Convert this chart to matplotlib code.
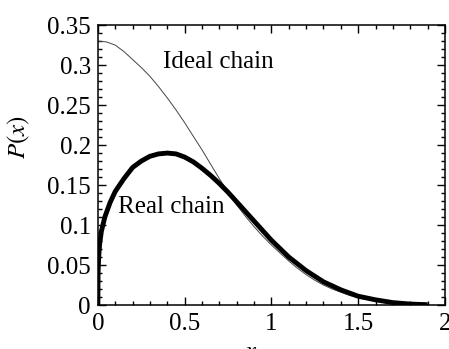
import matplotlib
matplotlib.use("Agg")
import matplotlib.pyplot as plt
from matplotlib.ticker import MultipleLocator, FormatStrFormatter

# values
x_ideal = [0, 0.05, 0.1, 0.15, 0.2, 0.25, 0.3, 0.35, 0.4, 0.45, 0.5, 0.55, 0.6, 0.65,
           0.7, 0.75, 0.8, 0.85, 0.9, 0.95, 1.0, 1.05, 1.1, 1.15, 1.2, 1.25, 1.3,
           1.35, 1.4, 1.45, 1.5, 1.6, 1.7, 1.8, 1.9]
p_ideal = [0.330, 0.329, 0.325, 0.317, 0.307, 0.297, 0.286, 0.273, 0.259, 0.244,
           0.228, 0.211, 0.194, 0.176, 0.158, 0.141, 0.125, 0.111, 0.098, 0.086,
           0.075, 0.065, 0.055, 0.046, 0.038, 0.031, 0.025, 0.020, 0.016, 0.012,
           0.009, 0.005, 0.0025, 0.001, 0.0004]

x_real = [0, 0.001, 0.005, 0.01, 0.02, 0.04, 0.07, 0.1, 0.15, 0.2, 0.25, 0.3, 0.35,
          0.4, 0.45, 0.5, 0.55, 0.6, 0.65, 0.7, 0.75, 0.8, 0.85, 0.9, 0.95, 1.0,
          1.1, 1.2, 1.3, 1.4, 1.5, 1.6, 1.7, 1.8, 1.9]
p_real = [0, 0.040, 0.061, 0.076, 0.092, 0.110, 0.128, 0.142, 0.158, 0.172, 0.180,
          0.186, 0.189, 0.190, 0.189, 0.185, 0.179, 0.171, 0.162, 0.152, 0.141,
          0.129, 0.117, 0.105, 0.093, 0.081, 0.060, 0.043, 0.029, 0.019, 0.011,
          0.0065, 0.003, 0.0012, 0.0004]

plt.rcParams["font.family"] = "Liberation Serif"
plt.rcParams["mathtext.fontset"] = "stix"

fig = plt.figure(figsize=(4.49, 3.49), dpi=100)
ax = fig.add_axes([0.218, 0.126, 0.773, 0.802])

ax.plot(x_ideal, p_ideal, color="#444444", lw=0.7)
ax.plot(x_real, p_real, color="black", lw=3.5, solid_capstyle="butt")

ax.set_xlim(0, 2); ax.set_ylim(0, 0.35)
ax.xaxis.set_major_locator(MultipleLocator(0.5))
ax.xaxis.set_minor_locator(MultipleLocator(0.1))
ax.yaxis.set_major_locator(MultipleLocator(0.05))
ax.yaxis.set_minor_locator(MultipleLocator(0.01))
ax.xaxis.set_major_formatter(FormatStrFormatter("%g"))
ax.yaxis.set_major_formatter(FormatStrFormatter("%g"))
ax.tick_params(which="both", direction="in", top=True, right=True, width=1, labelsize=18)
ax.tick_params(axis="x", which="major", length=6, pad=6)
ax.tick_params(axis="y", which="major", length=6, pad=5)
ax.tick_params(which="minor", length=3)
for s in ax.spines.values():
    s.set_linewidth(1.1)

ax.text(0.375, 0.296, "Ideal chain", fontsize=18, va="baseline", ha="left")
ax.text(0.115, 0.115, "Real chain", fontsize=18, va="baseline", ha="left")

ax.text(-0.228, 0.6, "$P(x)$", transform=ax.transAxes, rotation=90,
        fontsize=18, ha="center", va="center")
ax.text(0.44, -0.128, "$x$", transform=ax.transAxes, fontsize=18,
        ha="center", va="top")

fig.savefig("out.png", dpi=100)
